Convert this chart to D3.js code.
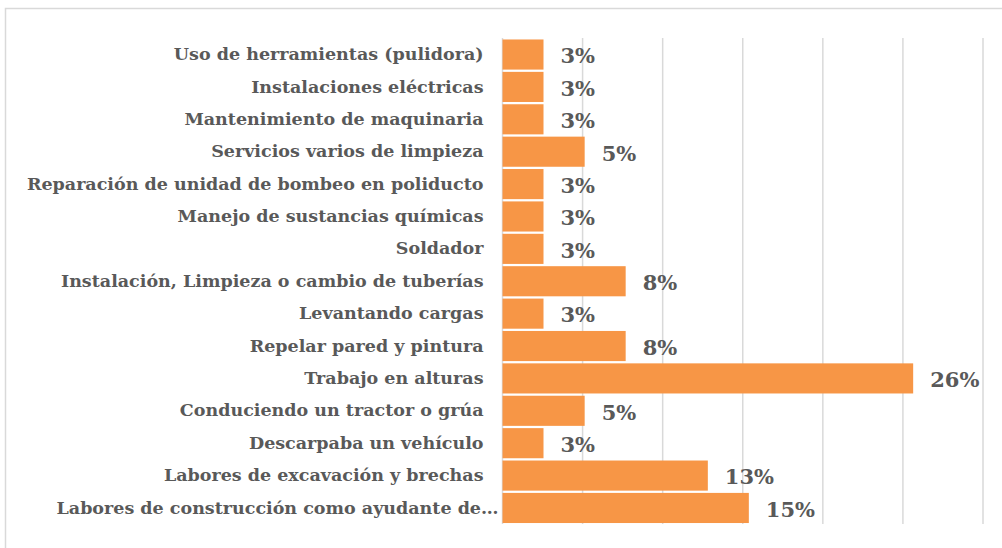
<!DOCTYPE html>
<html><head><meta charset="utf-8">
<script src="https://cdn.jsdelivr.net/npm/d3@7"></script>
<style>body{margin:0;background:#fff}svg{display:block}</style>
</head><body>
<svg id="c" width="1002" height="548"></svg>
<script>
const categories = [
  "Uso de herramientas (pulidora)",
  "Instalaciones eléctricas",
  "Mantenimiento de maquinaria",
  "Servicios varios de limpieza",
  "Reparación de unidad de bombeo en poliducto",
  "Manejo de sustancias químicas",
  "Soldador",
  "Instalación, Limpieza o cambio de tuberías",
  "Levantando cargas",
  "Repelar pared y pintura",
  "Trabajo en alturas",
  "Conduciendo un tractor o grúa",
  "Descarpaba un vehículo",
  "Labores de excavación y brechas",
  "Labores de construcción como ayudante de…"
];
const values = [0.0256, 0.0256, 0.0256, 0.0513, 0.0256, 0.0256, 0.0256, 0.0769, 0.0256, 0.0769, 0.2564, 0.0513, 0.0256, 0.1282, 0.1538];
const gridTicks = [0, 0.05, 0.10, 0.15, 0.20, 0.25, 0.30];

const svg = d3.select("#c");
const font = "'DejaVu Serif', serif";
const textColor = "#595959";

svg.append("rect").attr("x",5.5).attr("y",8.5).attr("width",1010).attr("height",560)
  .attr("fill","#fff").attr("stroke","#d9d9d9").attr("stroke-width",1.5);

const x = d3.scaleLinear().domain([0,0.30]).range([502.5,983]);
const y = d3.scaleBand().domain(categories).range([38.5,524]).paddingInner(0.07).paddingOuter(0.03);

svg.append("g").selectAll("line").data(gridTicks).join("line")
  .attr("x1",d=>x(d)).attr("x2",d=>x(d)).attr("y1",38).attr("y2",524)
  .attr("stroke","#d9d9d9").attr("stroke-width",1.5);

svg.append("g").selectAll("rect").data(values).join("rect")
  .attr("x",x(0)).attr("y",(d,i)=>y(categories[i]))
  .attr("width",d=>x(d)-x(0)).attr("height",y.bandwidth())
  .attr("fill","#F79646");

const yAxis = d3.axisLeft(y).tickSize(0).tickPadding(19);
const ga = svg.append("g").attr("transform",`translate(${x(0)},0)`).call(yAxis);
ga.select(".domain").remove();
ga.selectAll("text").attr("fill",textColor).style("font-family",font)
  .style("font-weight","bold").style("font-size","17.5px");
// truncated label spills slightly closer to the axis, as in the original
ga.selectAll("text").filter(d => d.endsWith("…")).attr("dx", 15);

svg.append("g").selectAll("text").data(values).join("text")
  .attr("x",d=>x(d)+17).attr("y",(d,i)=>y(categories[i])+y.bandwidth()/2)
  .attr("dy","0.42em").attr("fill",textColor)
  .style("font-family",font).style("font-weight","bold").style("font-size","21px")
  .text(d=>d3.format(".0%")(d));
</script>
</body></html>
